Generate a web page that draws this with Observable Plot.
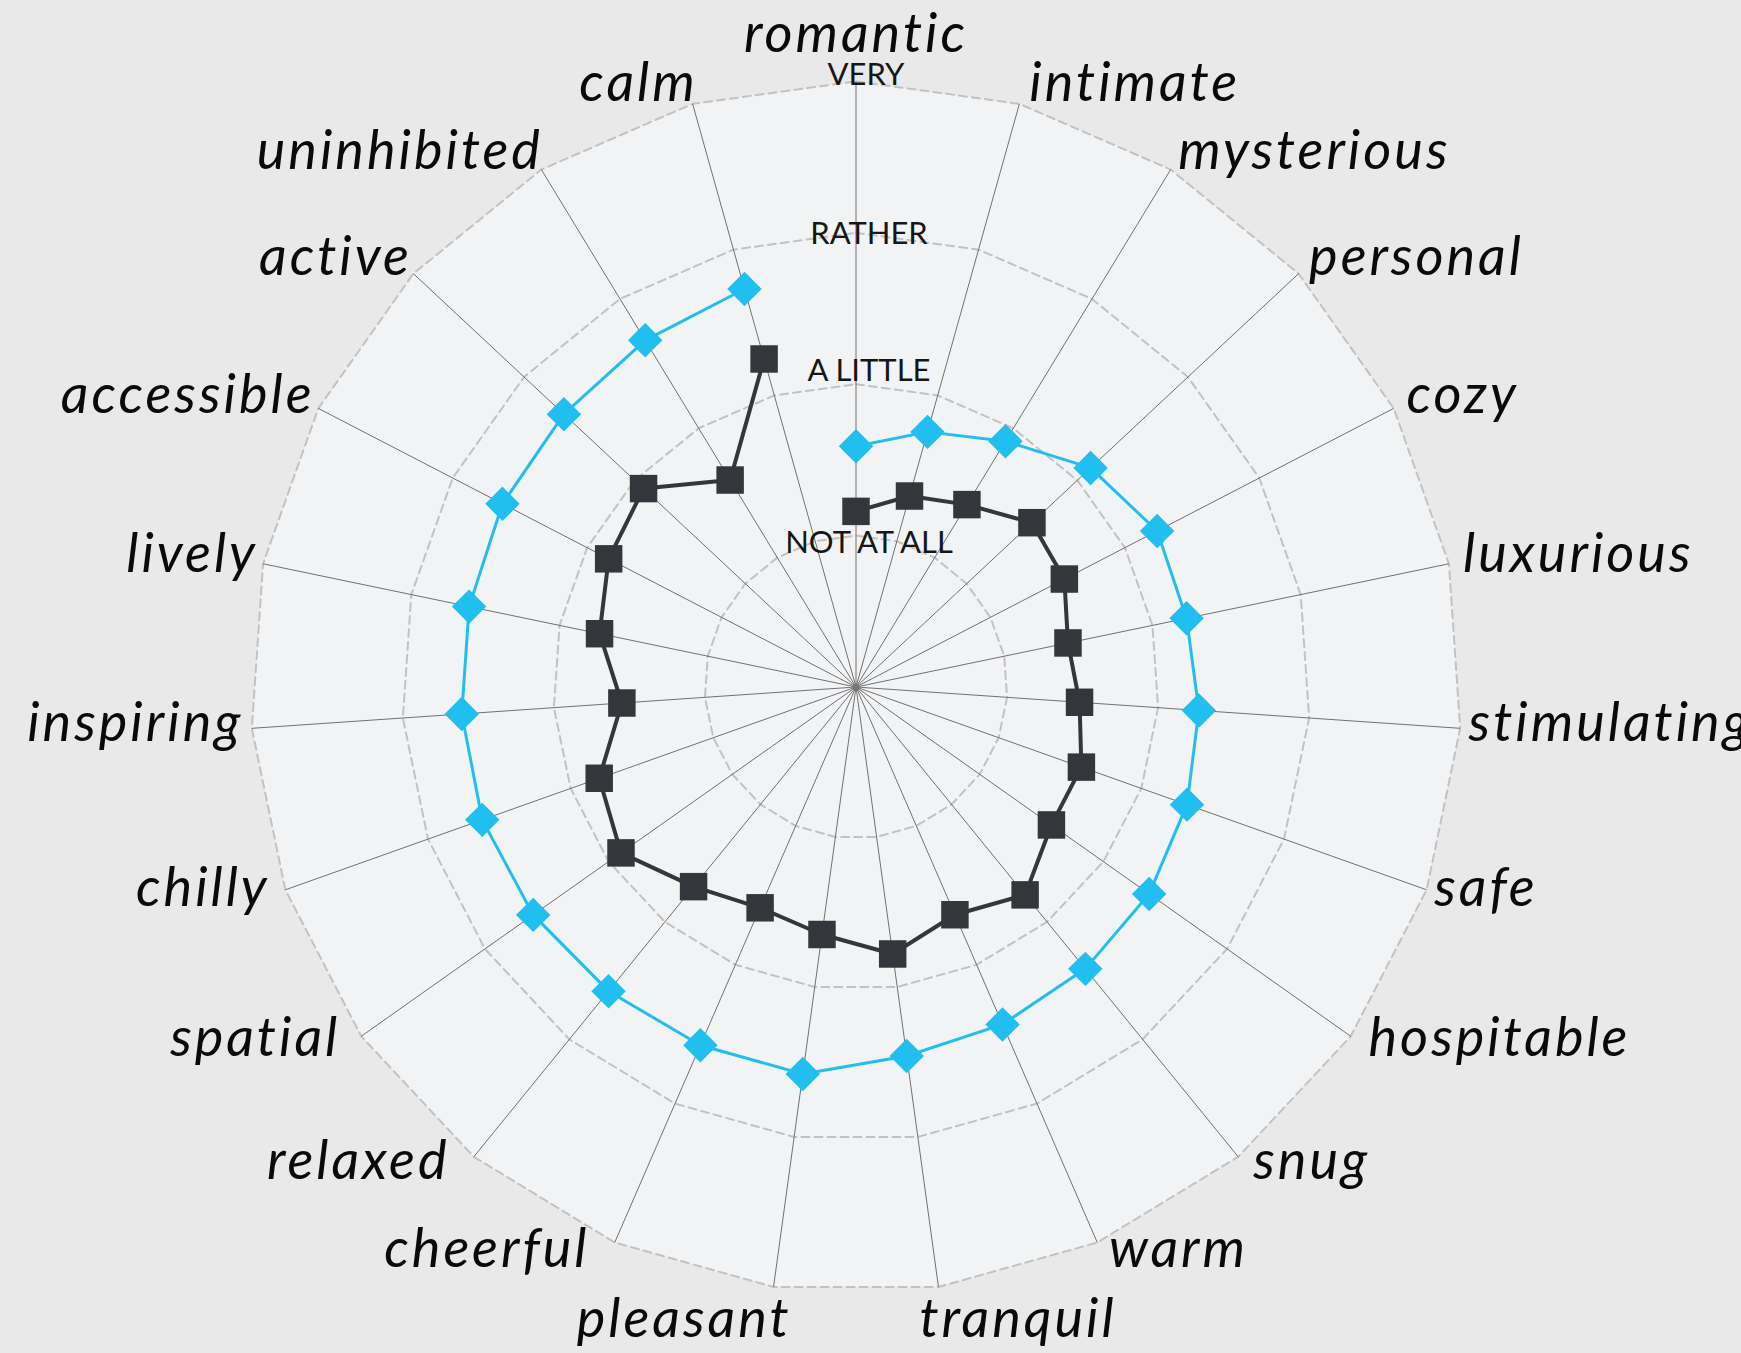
<!DOCTYPE html>
<html><head><meta charset="utf-8">
<script src="https://cdn.jsdelivr.net/npm/d3@7"></script>
<script src="https://cdn.jsdelivr.net/npm/@observablehq/plot@0.6"></script>
<style>
html,body{margin:0;padding:0;background:#e9e9e9;} svg{display:block}
</style>
</head><body><div id="chart"></div>
<script>
const categories = ["romantic","intimate","mysterious","personal","cozy","luxurious","stimulating","safe","hospitable","snug","warm","tranquil","pleasant","cheerful","relaxed","spatial","chilly","inspiring","lively","accessible","active","uninhibited","calm"];
const seriesBlue = [1.59,1.75,1.90,2.12,2.24,2.23,2.27,2.32,2.37,2.40,2.43,2.46,2.58,2.58,2.59,2.61,2.62,2.61,2.61,2.63,2.64,2.68,2.73];
const seriesDark = [1.16,1.31,1.41,1.59,1.55,1.43,1.48,1.58,1.58,1.77,1.64,1.78,1.65,1.59,1.70,1.90,1.80,1.55,1.73,1.84,1.92,1.60,2.25];
const levels = [1,2,3,4];
const levelLabels = ["NOT AT ALL","A LITTLE","RATHER","VERY"];

const W = 1741, H = 1353, CX = 855.5, CY = 686.5, U = 151.4;
const n = categories.length;
const ang = i => i * 2 * Math.PI / n;
const px = (i, v) => v * Math.sin(ang(i));
const py = (i, v) => v * Math.cos(ang(i));
const maxLevel = d3.max(levels);

const ringPts = levels.flatMap(l => d3.range(n + 1).map(i => ({l, x: px(i % n, l), y: py(i % n, l)})));
const outerPts = d3.range(n + 1).map(i => ({x: px(i % n, maxLevel), y: py(i % n, maxLevel)}));
const spokes = categories.map((c, i) => ({x2: px(i, maxLevel), y2: py(i, maxLevel)}));
const ser = vals => vals.map((v, i) => ({x: px(i, v), y: py(i, v)}));
const blue = ser(seriesBlue), dark = ser(seriesDark);

const LS = 3; // letter spacing of category labels (px)
const RL = 620 / U;
const labels = categories.map((c, i) => {
  const s = Math.sin(ang(i)), co = Math.cos(ang(i));
  let ox = 0, oy = -6;
  if (Math.abs(s) < 0.05) oy = -32;
  else if (co < -0.98) { oy = 18; ox = s > 0 ? -21 : 17 + LS; }
  else if (s < 0) ox = (co < 0 ? 30 * co + 5 : 6) + LS;
  else if (co > 0.9) ox = 6;
  else if (co > -0.4 && co < 0.1) ox = -6;
  else if (co <= -0.4) ox = 6;
  const side = Math.abs(s) < 0.05 ? "middle" : s > 0 ? "start" : "end";
  return {text: c, side, x: px(i, RL) + ox / U, y: py(i, RL) - oy / U};
});
const tiers = levels.map((l, k) => ({text: levelLabels[k], x: 0, y: l}));
const tierShift = [17, -3, 11, 4];
const tierDx = [13, 13, 13, 10];

const labelStyle = {fontFamily: "Lato", fontStyle: "italic", fontSize: 54, fill: "#0a0a0a", lineAnchor: "middle"};

const chart = Plot.plot({
  width: W, height: H, margin: 0,
  x: {domain: [-CX / U, (W - CX) / U], axis: null},
  y: {domain: [-(H - CY) / U, CY / U], axis: null},
  style: {background: "#e9e9e9", overflow: "hidden"},
  marks: [
    Plot.line(outerPts, {x: "x", y: "y", fill: "#f2f3f5", stroke: "none"}),
    Plot.line(ringPts, {x: "x", y: "y", z: "l", stroke: "#c2c2c2", strokeWidth: 2, strokeDasharray: "8,5"}),
    Plot.link(spokes, {x1: 0, y1: 0, x2: "x2", y2: "y2", stroke: "#707070", strokeWidth: 1}),
    Plot.dot([{x: 0, y: 0}], {x: "x", y: "y", r: 3.5, fill: "#777"}),
    ...tiers.map((t, k) => Plot.text([t], {x: "x", y: "y", text: "text", dx: tierDx[k], dy: tierShift[k], lineAnchor: "bottom", textAnchor: "middle", fontFamily: "Lato", fontWeight: 400, fontSize: 31, fill: "#161616"})),
    Plot.line(dark, {x: "x", y: "y", stroke: "#33363a", strokeWidth: 4}),
    Plot.line(blue, {x: "x", y: "y", stroke: "#20bff0", strokeWidth: 3}),
    Plot.dot(dark, {x: "x", y: "y", symbol: "square", r: 15.5, fill: "#33363a", stroke: "none"}),
    Plot.dot(blue, {x: "x", y: "y", symbol: "diamond2", r: 15.5, fill: "#20bff0", stroke: "none"}),
    Plot.text(labels.filter(d => d.side === "start"), {x: "x", y: "y", text: "text", textAnchor: "start", ...labelStyle}),
    Plot.text(labels.filter(d => d.side === "end"), {x: "x", y: "y", text: "text", textAnchor: "end", ...labelStyle}),
    Plot.text(labels.filter(d => d.side === "middle"), {x: "x", y: "y", text: "text", textAnchor: "middle", ...labelStyle})
  ]
});
const catSet = new Set(categories);
d3.select(chart).selectAll("text").filter(function() { return catSet.has(this.textContent); }).style("letter-spacing", LS + "px");
document.getElementById("chart").appendChild(chart);
</script>
</body></html>
